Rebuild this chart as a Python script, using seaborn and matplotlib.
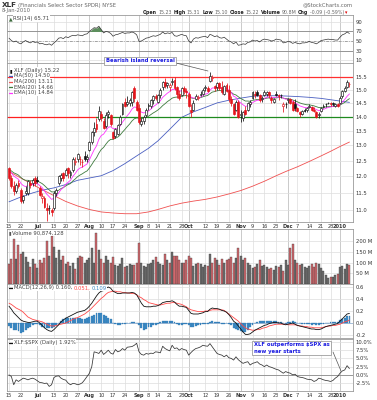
import numpy as np
import pandas as pd
import matplotlib
matplotlib.use("Agg")
import matplotlib.pyplot as plt
from matplotlib.lines import Line2D
from matplotlib.ticker import FixedLocator, NullLocator, FuncFormatter
import seaborn as sns

# ---------------- data ----------------
first_day, last_day = "2009-06-15", "2010-01-08"
holidays = ["2009-07-03", "2009-09-07", "2009-11-26", "2009-12-25", "2010-01-01"]

prev_close = 12.30
opens = [12.25, 11.95, 11.70, 11.55, 11.80, 11.60, 11.30, 11.50, 11.50, 11.80,
         11.80, 11.95, 11.90, 11.65, 11.35, 11.35, 11.05, 11.05, 11.00, 11.05,
         11.50, 11.80, 11.95, 12.10, 12.05, 12.25, 12.05, 12.20, 12.45, 12.55,
         12.55, 12.45, 12.65, 12.55, 12.85, 13.10, 13.45, 13.75, 13.90, 14.10,
         13.85, 13.65, 14.10, 14.05, 13.45, 13.30, 13.40, 13.75, 14.10, 14.55,
         14.45, 14.50, 14.55, 15.05, 14.55, 14.30, 13.75, 13.85, 14.05, 14.40,
         14.40, 14.60, 14.75, 14.55, 14.80, 15.10, 15.30, 15.20, 15.10, 15.30,
         15.40, 15.10, 14.85, 14.80, 15.05, 14.95, 14.85, 14.25, 14.25, 14.65,
         14.70, 14.80, 14.85, 15.05, 15.05, 15.35, 15.45, 15.15, 15.10, 15.25,
         15.10, 14.85, 15.20, 15.00, 14.65, 14.45, 14.25, 14.55, 14.05, 13.95,
         14.25, 14.25, 14.45, 14.70, 14.85, 14.90, 14.80, 14.65, 14.80, 14.85,
         14.90, 14.70, 14.55, 14.85, 14.80, 14.80, 14.40, 14.45, 14.60, 14.65,
         14.55, 14.45, 14.30, 14.15, 14.10, 14.25, 14.25, 14.35, 14.35, 14.25,
         14.15, 14.05, 14.20, 14.35, 14.45, 14.50, 14.50, 14.50, 14.40, 14.45,
         14.50, 14.75, 14.95, 15.10, 15.23]
highs = [12.30, 12.05, 11.85, 11.80, 11.90, 11.65, 11.45, 11.70, 11.90, 11.90,
         11.95, 12.00, 12.00, 11.70, 11.50, 11.40, 11.20, 11.15, 11.05, 11.55,
         11.65, 12.05, 12.10, 12.15, 12.25, 12.30, 12.20, 12.60, 12.60, 12.75,
         12.65, 12.55, 12.80, 12.70, 13.15, 13.50, 13.80, 13.95, 14.40, 14.20,
         13.95, 14.15, 14.25, 14.10, 13.50, 13.60, 13.75, 14.05, 14.50, 14.70,
         14.75, 14.70, 14.95, 15.15, 14.60, 14.45, 13.95, 14.05, 14.30, 14.50,
         14.65, 14.80, 14.85, 14.85, 15.05, 15.35, 15.45, 15.30, 15.25, 15.45,
         15.50, 15.15, 15.00, 15.10, 15.15, 15.05, 14.90, 14.45, 14.60, 14.85,
         14.80, 14.95, 15.05, 15.20, 15.15, 15.70, 15.60, 15.20, 15.30, 15.30,
         15.35, 15.20, 15.25, 15.20, 14.75, 14.50, 14.60, 14.60, 14.25, 14.20,
         14.40, 14.55, 14.60, 14.95, 14.95, 15.00, 14.85, 14.75, 15.00, 14.95,
         14.95, 14.75, 14.70, 14.95, 14.85, 14.85, 14.55, 14.55, 14.70, 14.70,
         14.60, 14.65, 14.35, 14.20, 14.25, 14.30, 14.35, 14.45, 14.40, 14.35,
         14.20, 14.15, 14.35, 14.45, 14.50, 14.55, 14.55, 14.55, 14.50, 14.50,
         14.75, 15.00, 15.15, 15.40, 15.31]
lows = [11.90, 11.65, 11.45, 11.50, 11.65, 11.20, 11.20, 11.45, 11.45, 11.65,
        11.70, 11.70, 11.80, 11.40, 11.20, 11.05, 10.70, 10.90, 10.85, 11.00,
        11.40, 11.75, 11.85, 11.85, 12.00, 11.95, 11.95, 12.15, 12.35, 12.45,
        12.35, 12.30, 12.50, 12.45, 12.80, 13.05, 13.30, 13.45, 13.85, 13.85,
        13.55, 13.60, 13.95, 13.65, 13.20, 13.25, 13.35, 13.70, 14.05, 14.35,
        14.40, 14.40, 14.40, 14.55, 14.20, 13.75, 13.65, 13.75, 14.00, 14.25,
        14.30, 14.45, 14.60, 14.50, 14.70, 15.00, 15.05, 15.05, 14.95, 15.20,
        15.00, 14.70, 14.60, 14.75, 14.85, 14.70, 14.35, 14.00, 14.20, 14.60,
        14.60, 14.75, 14.80, 14.95, 14.90, 15.30, 15.35, 14.95, 15.00, 15.00,
        14.85, 14.80, 14.90, 14.55, 14.40, 14.05, 14.20, 13.95, 13.80, 13.85,
        14.05, 14.20, 14.35, 14.65, 14.70, 14.75, 14.55, 14.55, 14.75, 14.75,
        14.70, 14.50, 14.50, 14.75, 14.60, 14.70, 14.15, 14.30, 14.50, 14.45,
        14.20, 14.20, 14.15, 14.00, 14.05, 14.15, 14.15, 14.30, 14.20, 14.15,
        13.95, 13.95, 14.15, 14.30, 14.35, 14.45, 14.40, 14.40, 14.35, 14.35,
        14.45, 14.70, 14.90, 15.05, 15.10]
closes = [11.95, 11.70, 11.55, 11.75, 11.70, 11.25, 11.40, 11.55, 11.85, 11.75,
          11.90, 11.80, 11.85, 11.45, 11.40, 11.10, 11.00, 11.05, 10.95, 11.50,
          11.60, 12.00, 12.05, 11.95, 12.20, 12.10, 12.15, 12.55, 12.50, 12.70,
          12.55, 12.45, 12.55, 12.60, 13.10, 13.45, 13.60, 13.55, 14.20, 13.95,
          13.60, 14.05, 14.15, 13.75, 13.25, 13.55, 13.70, 14.00, 14.45, 14.40,
          14.55, 14.60, 14.90, 14.70, 14.25, 13.80, 13.85, 14.00, 14.25, 14.40,
          14.60, 14.75, 14.70, 14.80, 15.00, 15.30, 15.15, 15.25, 15.20, 15.35,
          15.05, 14.85, 14.70, 15.05, 14.95, 14.90, 14.40, 14.15, 14.50, 14.75,
          14.70, 14.85, 15.00, 15.10, 14.95, 15.55, 15.50, 15.05, 15.25, 15.05,
          14.90, 15.15, 14.95, 14.65, 14.50, 14.10, 14.55, 14.00, 14.10, 14.15,
          14.10, 14.50, 14.55, 14.90, 14.80, 14.80, 14.60, 14.70, 14.90, 14.90,
          14.80, 14.60, 14.65, 14.80, 14.75, 14.80, 14.45, 14.45, 14.65, 14.50,
          14.25, 14.30, 14.20, 14.10, 14.20, 14.20, 14.30, 14.40, 14.25, 14.20,
          14.00, 14.10, 14.30, 14.40, 14.45, 14.50, 14.45, 14.45, 14.45, 14.40,
          14.70, 14.95, 15.05, 15.31, 15.22]
volume_m = [95, 118, 210, 115, 180, 140, 150, 125, 105, 80,
            115, 95, 75, 110, 100, 120, 200, 130, 225, 175,
            120, 160, 110, 130, 95, 105, 85, 100, 70, 120,
            130, 125, 100, 110, 120, 170, 100, 240, 160, 115,
            100, 130, 110, 100, 125, 90, 85, 95, 120, 80,
            85, 95, 90, 90, 100, 190, 100, 85, 80, 95,
            100, 110, 125, 105, 95, 90, 140, 110, 100, 150,
            130, 130, 110, 100, 100, 110, 130, 120, 85, 95,
            100, 95, 80, 90, 85, 140, 100, 120, 110, 90,
            115, 100, 110, 115, 125, 100, 120, 170, 130, 110,
            120, 100, 90, 75, 80, 95, 110, 85, 90, 80,
            70, 75, 65, 85, 80, 90, 60, 110, 90, 170,
            185, 110, 100, 90, 95, 80, 75, 85, 95, 80,
            100, 95, 75, 60, 40, 30, 35, 35, 40, 45,
            80, 85, 70, 95, 90.874]
ema10 = [12.20, 12.11, 12.01, 11.96, 11.91, 11.79, 11.72, 11.69, 11.72, 11.73,
         11.76, 11.77, 11.78, 11.72, 11.66, 11.56, 11.46, 11.39, 11.31, 11.34,
         11.39, 11.50, 11.60, 11.66, 11.76, 11.82, 11.88, 12.00, 12.09, 12.20,
         12.26, 12.29, 12.34, 12.39, 12.52, 12.69, 12.85, 12.98, 13.20, 13.33,
         13.38, 13.50, 13.62, 13.64, 13.57, 13.57, 13.59, 13.66, 13.80, 13.91,
         14.03, 14.13, 14.27, 14.35, 14.33, 14.23, 14.16, 14.13, 14.15, 14.20,
         14.27, 14.36, 14.42, 14.49, 14.58, 14.71, 14.79, 14.87, 14.93, 15.01,
         15.02, 14.99, 14.94, 14.96, 14.96, 14.95, 14.85, 14.72, 14.68, 14.69,
         14.69, 14.72, 14.77, 14.83, 14.85, 14.98, 15.07, 15.07, 15.10, 15.09,
         15.06, 15.08, 15.05, 14.98, 14.89, 14.75, 14.71, 14.58, 14.50, 14.43,
         14.37, 14.39, 14.42, 14.51, 14.56, 14.60, 14.60, 14.62, 14.67, 14.71,
         14.73, 14.71, 14.70, 14.72, 14.72, 14.74, 14.68, 14.64, 14.64, 14.62,
         14.55, 14.51, 14.45, 14.39, 14.36, 14.33, 14.32, 14.34, 14.32, 14.30,
         14.25, 14.22, 14.23, 14.26, 14.30, 14.33, 14.35, 14.37, 14.38, 14.39,
         14.44, 14.53, 14.63, 14.75, 14.84]
ema20 = [12.22, 12.17, 12.11, 12.08, 12.04, 11.97, 11.91, 11.88, 11.88, 11.86,
         11.87, 11.86, 11.86, 11.82, 11.78, 11.72, 11.65, 11.59, 11.53, 11.53,
         11.54, 11.58, 11.63, 11.66, 11.71, 11.75, 11.78, 11.86, 11.92, 11.99,
         12.04, 12.08, 12.13, 12.17, 12.26, 12.37, 12.49, 12.59, 12.74, 12.86,
         12.93, 13.04, 13.14, 13.20, 13.20, 13.24, 13.28, 13.35, 13.45, 13.54,
         13.64, 13.73, 13.84, 13.92, 13.95, 13.94, 13.93, 13.94, 13.97, 14.01,
         14.07, 14.13, 14.18, 14.24, 14.31, 14.40, 14.47, 14.55, 14.61, 14.68,
         14.71, 14.72, 14.72, 14.75, 14.77, 14.78, 14.75, 14.69, 14.67, 14.68,
         14.68, 14.70, 14.73, 14.76, 14.78, 14.85, 14.91, 14.93, 14.96, 14.97,
         14.96, 14.98, 14.98, 14.95, 14.90, 14.83, 14.80, 14.73, 14.67, 14.62,
         14.57, 14.57, 14.56, 14.60, 14.61, 14.63, 14.63, 14.64, 14.66, 14.68,
         14.69, 14.68, 14.68, 14.69, 14.70, 14.71, 14.68, 14.66, 14.66, 14.64,
         14.61, 14.58, 14.54, 14.50, 14.47, 14.45, 14.43, 14.43, 14.41, 14.39,
         14.36, 14.33, 14.33, 14.34, 14.35, 14.36, 14.37, 14.38, 14.39, 14.39,
         14.42, 14.47, 14.52, 14.60, 14.66]
ma_dates = ["2009-06-15", "2009-06-22", "2009-06-29", "2009-07-06", "2009-07-13",
            "2009-07-20", "2009-07-27", "2009-08-03", "2009-08-10", "2009-08-17",
            "2009-08-24", "2009-08-31", "2009-09-08", "2009-09-14", "2009-09-21",
            "2009-09-28", "2009-10-05", "2009-10-12", "2009-10-19", "2009-10-26",
            "2009-11-02", "2009-11-09", "2009-11-16", "2009-11-23", "2009-11-30",
            "2009-12-07", "2009-12-14", "2009-12-21", "2009-12-28", "2010-01-04",
            "2010-01-08"]
ma50 = [11.24, 11.38, 11.50, 11.58, 11.65, 11.75, 11.88, 11.95, 12.02, 12.18,
        12.40, 12.65, 12.90, 13.15, 13.55, 13.97, 14.17, 14.33, 14.50, 14.60,
        14.68, 14.75, 14.77, 14.77, 14.76, 14.74, 14.71, 14.67, 14.62, 14.57,
        14.52]
ma200 = [12.15, 11.95, 11.75, 11.60, 11.42, 11.25, 11.12, 11.02, 10.95, 10.92,
         10.90, 10.90, 10.95, 11.02, 11.12, 11.20, 11.26, 11.31, 11.38, 11.47,
         11.57, 11.70, 11.85, 12.02, 12.15, 12.30, 12.47, 12.65, 12.80, 12.96,
         13.11]
rsi = [56, 51, 48, 50, 46, 44, 48, 51, 48, 46,
       49, 47, 48, 44, 45, 43, 42, 44, 41, 46,
       50, 56, 57, 55, 59, 57, 60, 62, 61, 63,
       62, 61, 64, 65, 70, 74, 78, 77, 81, 74,
       67, 70, 69, 66, 60, 63, 64, 66, 68, 66,
       67, 67, 69, 67, 63, 49, 50, 53, 56, 57,
       59, 61, 60, 62, 64, 69, 65, 67, 66, 68,
       61, 60, 62, 64, 62, 61, 50, 46, 54, 57,
       56, 58, 59, 60, 57, 64, 62, 59, 61, 57,
       56, 58, 54, 50, 48, 44, 48, 41, 42, 44,
       43, 47, 48, 52, 50, 51, 48, 52, 54, 53,
       52, 50, 51, 54, 53, 52, 46, 47, 49, 48,
       45, 47, 45, 44, 46, 46, 47, 49, 47, 46,
       44, 47, 51, 52, 53, 54, 53, 53, 52, 52,
       58, 63, 65, 69, 65.71]
macd = [0.28, 0.23, 0.17, 0.13, 0.09, 0.05, 0.03, 0.02, 0.01, 0.01,
        0.02, 0.03, 0.03, 0.00, -0.04, -0.08, -0.11, -0.13, -0.14, -0.11,
        -0.07, -0.03, 0.02, 0.05, 0.08, 0.10, 0.12, 0.14, 0.16, 0.18,
        0.19, 0.20, 0.21, 0.24, 0.28, 0.33, 0.39, 0.45, 0.50, 0.53,
        0.54, 0.58, 0.60, 0.58, 0.53, 0.51, 0.49, 0.49, 0.50, 0.50,
        0.50, 0.50, 0.51, 0.50, 0.47, 0.40, 0.33, 0.28, 0.27, 0.27,
        0.27, 0.28, 0.28, 0.29, 0.31, 0.34, 0.35, 0.36, 0.36, 0.37,
        0.35, 0.31, 0.28, 0.28, 0.27, 0.26, 0.21, 0.16, 0.15, 0.15,
        0.15, 0.16, 0.17, 0.19, 0.19, 0.23, 0.25, 0.24, 0.24, 0.23,
        0.21, 0.20, 0.18, 0.14, 0.09, 0.03, 0.00, -0.05, -0.10, -0.15,
        -0.19, -0.19, -0.18, -0.15, -0.12, -0.10, -0.08, -0.06, -0.04, -0.03,
        -0.01, 0.00, 0.01, 0.01, 0.00, 0.00, -0.02, -0.03, -0.02, -0.01,
        0.00, -0.02, -0.04, -0.05, -0.06, -0.07, -0.08, -0.09, -0.10, -0.10,
        -0.11, -0.11, -0.10, -0.08, -0.06, -0.05, -0.04, -0.03, -0.02, -0.01,
        0.03, 0.07, 0.11, 0.15, 0.16]
signal = [0.33, 0.31, 0.28, 0.25, 0.23, 0.21, 0.18, 0.14, 0.10, 0.08,
          0.06, 0.05, 0.04, 0.03, 0.02, 0.00, -0.02, -0.04, -0.05, -0.05,
          -0.04, -0.03, -0.02, -0.01, 0.00, 0.02, 0.04, 0.06, 0.08, 0.09,
          0.11, 0.13, 0.15, 0.18, 0.21, 0.25, 0.29, 0.33, 0.37, 0.41,
          0.44, 0.48, 0.51, 0.52, 0.53, 0.53, 0.52, 0.52, 0.51, 0.51,
          0.50, 0.50, 0.49, 0.49, 0.47, 0.44, 0.42, 0.39, 0.37, 0.34,
          0.33, 0.32, 0.31, 0.30, 0.30, 0.31, 0.32, 0.33, 0.33, 0.34,
          0.34, 0.33, 0.32, 0.31, 0.29, 0.27, 0.24, 0.22, 0.21, 0.20,
          0.19, 0.19, 0.19, 0.20, 0.20, 0.21, 0.22, 0.22, 0.22, 0.22,
          0.22, 0.21, 0.18, 0.15, 0.12, 0.09, 0.06, 0.03, -0.01, -0.05,
          -0.08, -0.10, -0.11, -0.12, -0.12, -0.11, -0.11, -0.09, -0.08, -0.07,
          -0.05, -0.04, -0.03, -0.02, -0.02, -0.02, -0.02, -0.02, -0.03, -0.03,
          -0.03, -0.03, -0.04, -0.05, -0.05, -0.06, -0.06, -0.07, -0.07, -0.08,
          -0.08, -0.08, -0.08, -0.07, -0.06, -0.05, -0.05, -0.04, -0.04, -0.03,
          -0.02, 0.00, 0.02, 0.03, 0.05]
hist = [-0.05, -0.08, -0.11, -0.12, -0.14, -0.16, -0.15, -0.12, -0.09, -0.07,
        -0.04, -0.02, -0.01, -0.03, -0.06, -0.08, -0.09, -0.09, -0.09, -0.06,
        -0.03, 0.00, 0.04, 0.06, 0.08, 0.08, 0.08, 0.08, 0.08, 0.09,
        0.08, 0.07, 0.07, 0.08, 0.10, 0.12, 0.14, 0.16, 0.17, 0.16,
        0.14, 0.12, 0.09, 0.06, 0.00, -0.02, -0.03, -0.03, -0.01, -0.01,
        0.00, 0.00, 0.02, 0.01, 0.00, -0.04, -0.09, -0.11, -0.10, -0.07,
        -0.06, -0.04, -0.03, -0.01, 0.01, 0.03, 0.03, 0.03, 0.03, 0.03,
        0.01, -0.02, -0.04, -0.03, -0.02, -0.01, -0.03, -0.06, -0.06, -0.05,
        -0.04, -0.03, -0.02, -0.01, -0.01, 0.02, 0.03, 0.02, 0.02, 0.01,
        -0.01, -0.01, 0.00, -0.01, -0.03, -0.08, -0.10, -0.12, -0.14, -0.15,
        -0.15, -0.12, -0.07, -0.03, 0.00, 0.01, 0.03, 0.03, 0.04, 0.04,
        0.04, 0.04, 0.04, 0.03, 0.02, 0.02, 0.00, -0.01, 0.01, 0.02,
        0.03, 0.01, 0.00, 0.00, -0.01, -0.01, -0.02, -0.02, -0.03, -0.02,
        -0.03, -0.03, -0.02, -0.01, 0.00, 0.00, 0.01, 0.01, 0.02, 0.02,
        0.05, 0.07, 0.09, 0.12, 0.109]
ratio = [0.0, -0.5, -3.0, -1.5, -2.0, -1.5, -1.0, -1.2, -1.5, -1.2,
         -1.0, -1.3, -1.8, -2.3, -2.4, -2.6, -2.5, -3.5, -3.0, -0.8,
         -0.4, -0.3, -1.0, -1.4, -1.6, -2.5, -3.0, -2.6, -2.7, -3.0,
         -2.8, -2.4, -1.5, -0.5, 0.5, 2.5, 7.0, 6.8, 6.5, 7.5,
         6.2, 6.8, 7.5, 6.6, 6.3, 7.7, 7.0, 7.3, 8.0, 7.5,
         8.4, 8.5, 8.6, 9.0, 9.6, 7.0, 6.2, 6.0, 6.5, 6.3,
         6.6, 6.5, 7.0, 6.9, 6.7, 8.7, 8.0, 7.6, 7.3, 9.0,
         8.0, 8.2, 7.5, 8.0, 7.7, 7.5, 6.0, 6.8, 7.5, 8.0,
         8.2, 8.5, 9.0, 8.8, 8.7, 9.5, 8.5, 7.5, 6.5, 6.2,
         6.0, 5.5, 6.0, 5.2, 5.0, 4.5, 5.5, 4.6, 4.0, 3.5,
         3.8, 4.0, 3.0, 3.5, 3.7, 4.0, 3.3, 3.0, 2.5, 3.0,
         2.5, 2.3, 2.0, 1.7, 1.5, 1.0, 0.5, 1.0, 0.7, 0.5,
         0.0, 0.2, -0.5, -0.7, -0.8, -1.0, -1.3, -1.4, -1.5, -2.0,
         -1.7, -1.0, -1.2, -1.5, -1.7, -1.8, -2.0, -1.7, -1.0, -0.5,
         0.5, 1.2, 1.5, 2.8, 1.92]
tick_dates = ["2009-06-15", "2009-06-22", "2009-07-01", "2009-07-13", "2009-07-20",
              "2009-07-27", "2009-08-03", "2009-08-10", "2009-08-17", "2009-08-24",
              "2009-09-01", "2009-09-08", "2009-09-14", "2009-09-21", "2009-09-28",
              "2009-10-01", "2009-10-12", "2009-10-19", "2009-10-26", "2009-11-02",
              "2009-11-09", "2009-11-16", "2009-11-23", "2009-12-01", "2009-12-07",
              "2009-12-14", "2009-12-21", "2009-12-28", "2010-01-04"]
tick_labels = ["15", "22", "Jul", "13", "20", "27", "Aug", "10", "17", "24",
               "Sep", "8", "14", "21", "28", "Oct", "12", "19", "26", "Nov",
               "9", "16", "23", "Dec", "7", "14", "21", "28", "2010"]
month_labels = {"Jul", "Aug", "Sep", "Oct", "Nov", "Dec", "2010"}
price_ticks = [11.0, 11.5, 12.0, 12.5, 13.0, 13.5, 14.0, 14.5, 15.0, 15.5]
rsi_ticks = [10, 30, 50, 70, 90]
vol_ticks = [50, 100, 150, 200]
macd_ticks = [-0.2, 0.0, 0.2, 0.4, 0.6]
ratio_ticks = [-2.5, 0.0, 2.5, 5.0, 7.5, 10.0]

# ---------------- setup ----------------
sns.set_style("white")
plt.rcParams["font.family"] = ["DejaVu Sans"]

days = pd.bdate_range(first_day, last_day)
days = days[~days.isin(pd.to_datetime(holidays))]
pos_of = {d: i for i, d in enumerate(days)}
n = len(days)
x = np.arange(n)
tick_pos = [pos_of[pd.Timestamp(d)] for d in tick_dates]
ma_pos = [pos_of[pd.Timestamp(d)] for d in ma_dates]

W, H = 377, 400
fig = plt.figure(figsize=(W / 100, H / 100), dpi=100)


def rect(x0, y0, x1, y1):
    return [x0 / W, 1 - y1 / H, (x1 - x0) / W, (y1 - y0) / H]


def ftext(xp, yp, s, **kw):
    kw.setdefault("fontsize", 3.8)
    kw.setdefault("va", "center")
    kw.setdefault("ha", "left")
    kw.setdefault("color", "#444444")
    return fig.text(xp / W, 1 - yp / H, s, **kw)


def fline(x0, y0, x1, y1, **kw):
    fig.add_artist(Line2D([x0 / W, x1 / W], [1 - y0 / H, 1 - y1 / H],
                          transform=fig.transFigure, **kw))


renderer = fig.canvas.get_renderer()


def seq_text(xp, yp, parts):
    for s, kw in parts:
        kw = dict(kw)
        gap = kw.pop("gap", 0)
        t = ftext(xp, yp, s, **kw)
        xp += t.get_window_extent(renderer=renderer).width + gap


XL, XR = 7, 353
ax_rsi = fig.add_axes(rect(XL, 15, XR, 63))
ax_p = fig.add_axes(rect(XL, 63, XR, 222))
ax_v = fig.add_axes(rect(XL, 229, XR, 284))
ax_m = fig.add_axes(rect(XL, 284, XR, 338))
ax_r = fig.add_axes(rect(XL, 339, XR, 391))
axes = [ax_rsi, ax_p, ax_v, ax_m, ax_r]

for ax in axes:
    ax.set_xlim(-0.85, 145.5)
    for sp in ax.spines.values():
        sp.set_color("#9a9a9a")
        sp.set_linewidth(0.6)
    ax.yaxis.tick_right()
    ax.tick_params(axis="y", length=0, pad=2, labelsize=3.8, labelcolor="#333333")
    ax.tick_params(axis="x", length=0, pad=1.2, labelsize=3.6, labelcolor="#333333")
    ax.set_xticks(tick_pos)
    ax.set_xticklabels([])
    for p, lab in zip(tick_pos, tick_labels):
        ax.axvline(p, color="#b5b5b5" if lab in month_labels else "#dddddd",
                   lw=0.5, zorder=0)

for ax in (ax_p, ax_r):
    ax.set_xticklabels(tick_labels)
    for t in ax.get_xticklabels():
        if t.get_text() in month_labels:
            t.set_fontweight("bold")

# ---------------- RSI ----------------
ax_rsi.set_ylim(3.7, 104.7)
ax_rsi.set_yticks(rsi_ticks)
for v in rsi_ticks:
    ax_rsi.axhline(v, color="#dddddd", lw=0.5, zorder=0)
ax_rsi.axhline(70, color="#888888", lw=0.6, zorder=1)
ax_rsi.axhline(30, color="#888888", lw=0.6, zorder=1)
ax_rsi.axhline(50, color="#888888", lw=0.5, ls=(0, (4, 2, 1, 2)), zorder=1)
rsi_a = np.array(rsi, dtype=float)
ax_rsi.fill_between(x, rsi_a, 70, where=rsi_a > 70, interpolate=True,
                    color="#5d8f5d", lw=0, zorder=2)
sns.lineplot(x=x, y=rsi_a, ax=ax_rsi, color="#333333", linewidth=0.5, zorder=3)

# ---------------- price ----------------
ax_p.set_yscale("log")
ax_p.set_ylim(10.67, 16.07)
ax_p.yaxis.set_major_locator(FixedLocator(price_ticks))
ax_p.yaxis.set_minor_locator(NullLocator())
ax_p.yaxis.set_major_formatter(FuncFormatter(lambda v, p: f"{v:.1f}"))
for v in price_ticks:
    ax_p.axhline(v, color="#dddddd", lw=0.5, zorder=0)

sns.lineplot(x=ma_pos, y=ma200, ax=ax_p, color="#f05050", linewidth=0.6, zorder=2)
sns.lineplot(x=ma_pos, y=ma50, ax=ax_p, color="#4a5fc1", linewidth=0.6, zorder=2)
sns.lineplot(x=x, y=ema20, ax=ax_p, color="#3d7a3d", linewidth=0.6, zorder=2)
sns.lineplot(x=x, y=ema10, ax=ax_p, color="#ff33ff", linewidth=0.6, zorder=2)

ax_p.axhline(15.5, color="#ff3030", lw=0.9, zorder=2)
split = pos_of[pd.Timestamp("2009-08-06")]
ax_p.plot([-0.85, split], [14.0, 14.0], color="#ff2020", lw=0.9, zorder=2)
ax_p.plot([split, 145.5], [14.0, 14.0], color="#1e8a1e", lw=0.9, zorder=2)

prevs = [prev_close] + closes[:-1]
for i in range(n):
    o, h, l, c = opens[i], highs[i], lows[i], closes[i]
    col = "#e4141b" if c < prevs[i] else "#111111"
    filled = c < o
    ax_p.vlines(i, l, h, color=col, lw=0.55, zorder=4)
    lo, hi = min(o, c), max(o, c)
    if hi - lo < 0.012:
        hi = lo + 0.012
    ax_p.bar(i, hi - lo, bottom=lo, width=0.8, color=col if filled else "white",
             edgecolor=col, linewidth=0.45, zorder=5)

# ---------------- volume ----------------
ax_v.set_ylim(0, 257)
ax_v.set_yticks(vol_ticks)
ax_v.set_yticklabels([f"{v} M" for v in vol_ticks])
for v in vol_ticks:
    ax_v.axhline(v, color="#dddddd", lw=0.5, zorder=0)
vcols = ["#d2686d" if closes[i] < prevs[i] else "#6e6e6e" for i in range(n)]
ax_v.bar(x, volume_m, width=0.85, color=vcols, edgecolor="#3a3a3a",
         linewidth=0.25, zorder=2)

# ---------------- MACD ----------------
ax_m.set_ylim(-0.25, 0.65)
ax_m.set_yticks(macd_ticks)
ax_m.set_yticklabels([f"{v:.1f}" for v in macd_ticks])
for v in macd_ticks:
    ax_m.axhline(v, color="#dddddd", lw=0.5, zorder=0)
ax_m.axhline(0, color="#9ab8d8", lw=0.6, zorder=1)
ax_m.bar(x, hist, width=0.8, color="#3d8cc6", edgecolor="#2a6ea8",
         linewidth=0.2, zorder=2)
sns.lineplot(x=x, y=signal, ax=ax_m, color="#ff4a4a", linewidth=0.6, zorder=3)
sns.lineplot(x=x, y=macd, ax=ax_m, color="#111111", linewidth=0.6, zorder=4)

# ---------------- ratio ----------------
ax_r.set_ylim(-4.9, 10.9)
ax_r.set_yticks(ratio_ticks)
ax_r.set_yticklabels([f"{v:.1f}%" for v in ratio_ticks])
for v in ratio_ticks:
    ax_r.axhline(v, color="#dddddd", lw=0.5, zorder=0)
ax_r.axhline(0, color="#8a8a8a", lw=0.6, zorder=1)
sns.lineplot(x=x, y=ratio, ax=ax_r, color="#333333", linewidth=0.55, zorder=3)

for ax in axes:
    ax.set_xlabel("")
    ax.set_ylabel("")

# ---------------- texts ----------------
seq_text(2, 5, [("XLF", dict(fontsize=5.2, weight="bold", color="#333333", gap=1.5)),
                ("(Financials Select Sector SPDR) NYSE", dict(color="#666666"))])
ftext(2, 10.5, "8-Jan-2010", color="#666666")
ftext(353, 4.5, "@StockCharts.com", ha="right", color="#666666")
hs = 3.4
seq_text(143, 12.5, [
    ("Open", dict(weight="bold", color="#222222", fontsize=hs, gap=1)), ("15.23", dict(color="#666666", fontsize=hs, gap=2)),
    ("High", dict(weight="bold", color="#222222", fontsize=hs, gap=1)), ("15.31", dict(color="#666666", fontsize=hs, gap=2)),
    ("Low", dict(weight="bold", color="#222222", fontsize=hs, gap=1)), ("15.10", dict(color="#666666", fontsize=hs, gap=2)),
    ("Close", dict(weight="bold", color="#222222", fontsize=hs, gap=1)), ("15.22", dict(color="#666666", fontsize=hs, gap=2)),
    ("Volume", dict(weight="bold", color="#222222", fontsize=hs, gap=1)), ("90.8M", dict(color="#666666", fontsize=hs, gap=2)),
    ("Chg", dict(weight="bold", color="#222222", fontsize=hs, gap=1)), ("-0.09 (-0.59%)", dict(color="#666666", fontsize=hs, gap=1)),
    ("\u25BE", dict(color="#dd0000", fontsize=hs)),
])

bb = dict(boxstyle="square,pad=0.1", fc="white", ec="none")
seq_text(9, 18.5, [("\u25B2", dict(color="#3d6b3d", fontsize=3.4, gap=0.5)),
                   ("RSI(14) 65.71", dict(bbox=bb))])

ftext(10, 70.5, "\u25AE", color="#111111", fontsize=3.4)
ftext(14, 70.5, "XLF (Daily) 15.22", bbox=bb)
legend_items = [("MA(50) 14.50", "#4a5fc1", 76.0), ("MA(200) 13.11", "#f05050", 81.5),
                ("EMA(20) 14.66", "#3d7a3d", 87.0), ("EMA(10) 14.84", "#ff33ff", 92.5)]
for lab, col, yy in legend_items:
    fline(9, yy, 13.5, yy, color=col, lw=0.9)
    ftext(14, yy, lab, bbox=bb)

seq_text(9, 233, [("\u25AE", dict(color="#555555", fontsize=3.4, gap=0.5)),
                  ("Volume 90,874,128", dict(bbox=bb))])
fline(9, 288, 13.5, 288, color="#111111", lw=0.9)
seq_text(14, 288, [("MACD(12,26,9) 0.160,", dict(bbox=bb, gap=1.2)),
                   ("0.051,", dict(color="#ff4a4a", bbox=bb, gap=1.2)),
                   ("0.109", dict(color="#3d8cc6", bbox=bb))])
fline(9, 342.5, 13.5, 342.5, color="#111111", lw=0.9)
ftext(14, 342.5, "XLF:$SPX (Daily) 1.92%", bbox=bb)

# annotations
box = dict(boxstyle="square,pad=0.3", fc="white", ec="#8a8a8a", lw=0.5)
ftext(106, 61, "Bearish island reversal", color="#1a1ae0", weight="bold",
      fontsize=3.8, bbox=box)
fline(170, 61.5, 208, 71, color="#555555", lw=0.5)
ftext(254, 348, "XLF outperforms $SPX as\nnew year starts", color="#1a1ae0",
      weight="bold", fontsize=3.8, linespacing=1.3, va="center", bbox=box)
fline(333, 352, 341, 371, color="#555555", lw=0.5)

fig.savefig("out.png", dpi=100)
